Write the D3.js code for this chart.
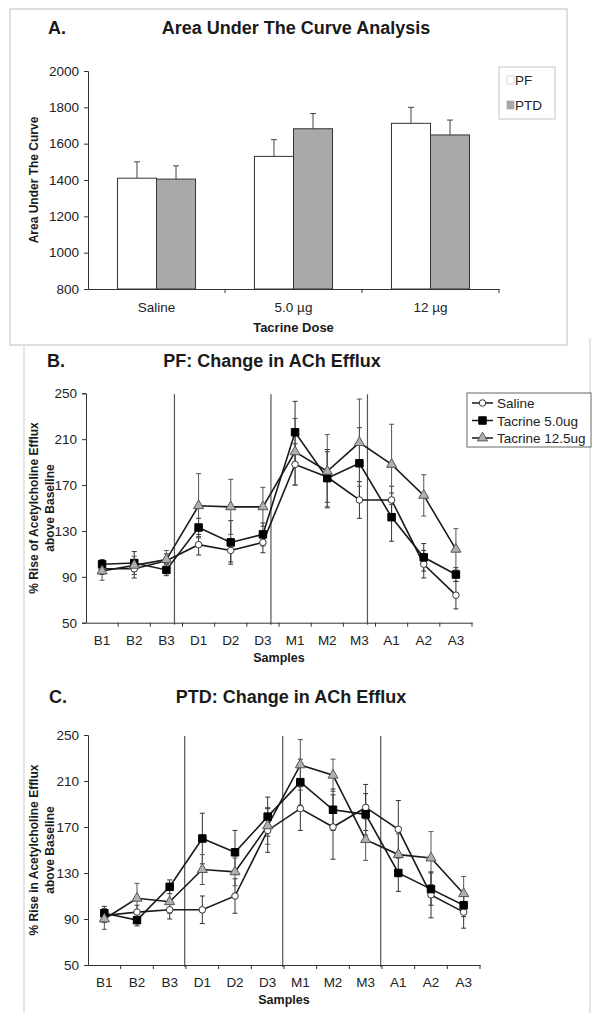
<!DOCTYPE html>
<html>
<head>
<meta charset="utf-8">
<script src="https://cdn.jsdelivr.net/npm/d3@7"></script>
<style>
  html, body { margin: 0; padding: 0; background: #fff; }
  svg { display: block; font-family: "Liberation Sans", Arial, sans-serif; }
</style>
</head>
<body>
<svg id="chart" width="601" height="1032"></svg>
<script>
// ---------- Panel A data ----------
const doseCategories = ["Saline", "5.0 µg", "12 µg"];
const aucGroups = ["PF", "PTD"];
const aucPF = [1410, 1530, 1712];
const aucPFErr = [90, 92, 88];
const aucPTD = [1405, 1682, 1648];
const aucPTDErr = [73, 84, 82];
const aucTicks = [800, 1000, 1200, 1400, 1600, 1800, 2000];

// ---------- Panels B & C data ----------
const samples = ["B1", "B2", "B3", "D1", "D2", "D3", "M1", "M2", "M3", "A1", "A2", "A3"];
const seriesNames = ["Saline", "Tacrine 5.0ug", "Tacrine 12.5ug"];
const effluxTicks = [50, 90, 130, 170, 210, 250];
const phaseEnds = ["B3", "D3", "M3"];

const pfSaline = [97, 97, 104, 118, 113, 120, 188, 177, 157, 157, 101, 74];
const pfSalineErr = [5, 8, 6, 9, 10, 9, 18, 22, 16, 12, 12, 12];
const pfTac5 = [101, 102, 96, 133, 120, 127, 216, 176, 189, 142, 107, 92];
const pfTac5Err = [4, 10, 5, 8, 19, 10, 27, 25, 31, 21, 12, 6];
const pfTac12 = [95, 100, 105, 152, 151, 151, 199, 182, 207, 188, 161, 114];
const pfTac12Err = [8, 8, 8, 28, 24, 17, 29, 32, 38, 35, 18, 18];

const ptdSaline = [93, 96, 98, 98, 110, 167, 186, 170, 187, 168, 111, 96];
const ptdSalineErr = [6, 6, 8, 12, 15, 19, 19, 28, 20, 25, 20, 14];
const ptdTac5 = [95, 89, 118, 160, 148, 179, 209, 185, 181, 130, 116, 102];
const ptdTac5Err = [6, 5, 6, 22, 19, 17, 20, 18, 18, 16, 14, 10];
const ptdTac12 = [90, 108, 105, 133, 131, 171, 224, 215, 159, 146, 143, 112];
const ptdTac12Err = [9, 13, 10, 13, 12, 16, 22, 14, 18, 18, 23, 15];

// ---------- drawing ----------
const svg = d3.select("#chart");
const INK = "#1a1a1a";
const AXIS = "#333";

// Frames
svg.append("rect").attr("x", 10).attr("y", 9).attr("width", 557).attr("height", 336)
  .attr("fill", "none").attr("stroke", "#d4d4d4").attr("stroke-width", 1.5);
svg.append("line").attr("x1", 24).attr("x2", 24).attr("y1", 345).attr("y2", 1013)
  .attr("stroke", "#dcdcdc").attr("stroke-width", 1.5);
svg.append("line").attr("x1", 590).attr("x2", 590).attr("y1", 338).attr("y2", 1013)
  .attr("stroke", "#dcdcdc").attr("stroke-width", 1.5);

function titleText(letter, letterX, title, titleX, baseline) {
  svg.append("text").attr("x", letterX).attr("y", baseline)
    .attr("font-size", 18).attr("font-weight", "bold").attr("fill", INK).text(letter);
  svg.append("text").attr("x", titleX).attr("y", baseline).attr("text-anchor", "middle")
    .attr("font-size", 18).attr("font-weight", "bold").attr("fill", INK).text(title);
}

function styleAxis(g) {
  g.selectAll(".domain").attr("stroke", AXIS).attr("stroke-width", 1);
  g.selectAll(".tick line").attr("stroke", AXIS);
  g.selectAll(".tick text").attr("fill", "#222").attr("font-size", 13.5)
    .attr("font-family", "Liberation Sans, Arial, sans-serif");
}

// ===== Panel A =====
(function panelA() {
  const left = 88, right = 499, top = 71, bottom = 289;
  const x0 = d3.scaleBand().domain(doseCategories).range([left, right]).paddingInner(0).paddingOuter(0);
  const x1 = d3.scaleBand().domain(aucGroups).range([0, x0.bandwidth()]).paddingInner(0).paddingOuter(0.755);
  const y = d3.scaleLinear().domain([800, 2000]).range([bottom, top]);

  titleText("A.", 48, "Area Under The Curve Analysis", 296, 34);

  const data = doseCategories.map((c, i) => ({
    cat: c,
    bars: [
      { g: "PF", v: aucPF[i], e: aucPFErr[i] },
      { g: "PTD", v: aucPTD[i], e: aucPTDErr[i] }
    ]
  }));
  const fills = { PF: "#ffffff", PTD: "#a9a9a9" };

  const grp = svg.append("g").selectAll("g").data(data).join("g")
    .attr("transform", d => `translate(${x0(d.cat)},0)`);
  // error bars (upper only)
  grp.selectAll("g.err").data(d => d.bars).join("g").attr("class", "err").each(function (b) {
    const g = d3.select(this);
    const cx = x1(b.g) + x1.bandwidth() / 2;
    g.append("line").attr("x1", cx).attr("x2", cx).attr("y1", y(b.v)).attr("y2", y(b.v + b.e))
      .attr("stroke", "#444").attr("stroke-width", 1);
    g.append("line").attr("x1", cx - 3).attr("x2", cx + 3).attr("y1", y(b.v + b.e)).attr("y2", y(b.v + b.e))
      .attr("stroke", "#444").attr("stroke-width", 1);
  });
  grp.selectAll("rect").data(d => d.bars).join("rect")
    .attr("x", b => x1(b.g)).attr("width", x1.bandwidth())
    .attr("y", b => y(b.v)).attr("height", b => y(800) - y(b.v))
    .attr("fill", b => fills[b.g]).attr("stroke", "#333").attr("stroke-width", 1);

  const ya = svg.append("g").attr("transform", `translate(${left},0)`)
    .call(d3.axisLeft(y).tickValues(aucTicks).tickSize(4).tickPadding(5).tickFormat(d3.format("d")));
  styleAxis(ya);

  const xa = svg.append("g").attr("transform", `translate(0,${bottom})`)
    .call(d3.axisBottom(x0).tickSize(0).tickPadding(13));
  styleAxis(xa);
  // boundary tick marks
  const bounds = doseCategories.map(c => x0(c)).concat([right]);
  svg.append("g").selectAll("line").data(bounds.slice(1)).join("line")
    .attr("x1", d => d).attr("x2", d => d).attr("y1", bottom).attr("y2", bottom + 4)
    .attr("stroke", AXIS);

  svg.append("text").attr("x", (left + right) / 2).attr("y", 332).attr("text-anchor", "middle")
    .attr("font-size", 13).attr("font-weight", "bold").attr("fill", INK).text("Tacrine Dose");
  svg.append("text").attr("transform", `translate(38,${(top + bottom) / 2}) rotate(-90)`)
    .attr("text-anchor", "middle").attr("font-size", 12).attr("font-weight", "bold").attr("fill", INK)
    .text("Area Under The Curve");

  // legend
  const lg = svg.append("g");
  lg.append("rect").attr("x", 499).attr("y", 67).attr("width", 56).attr("height", 52)
    .attr("fill", "#fff").attr("stroke", "#cfcfcf").attr("stroke-width", 1.2);
  aucGroups.forEach((gname, i) => {
    const cy = 80 + i * 25;
    lg.append("rect").attr("x", 507).attr("y", cy - 4).attr("width", 7).attr("height", 8)
      .attr("fill", fills[gname]).attr("stroke", gname === "PF" ? "#ccc" : "#a9a9a9").attr("stroke-width", 0.8);
    lg.append("text").attr("x", 515).attr("y", cy + 5).attr("font-size", 13.5).attr("fill", "#222").text(gname);
  });
})();

// ===== Line panels =====
function symbolFor(i) {
  return [d3.symbolCircle, d3.symbolSquare, d3.symbolTriangle][i];
}
const symSize = [34, 56, 44];
const symFill = ["#ffffff", "#000000", "#b0b0b0"];
const symStroke = ["#333", "#000", "#555"];

function linePanel(opts) {
  const { left, right, top, bottom, letter, letterX, title, titleX, titleBase, yLabel1, yLabel2,
          series, errs, phaseOffset, tickBase, samplesBase, legend } = opts;
  const x = d3.scaleBand().domain(samples).range([left, right]).padding(0);
  const y = d3.scaleLinear().domain([50, 250]).range([bottom, top]);
  const cx = s => x(s) + x.bandwidth() / 2;

  titleText(letter, letterX, title, titleX, titleBase);

  // phase separators
  svg.append("g").selectAll("line").data(phaseEnds).join("line")
    .attr("x1", d => cx(d) + x.bandwidth() * phaseOffset).attr("x2", d => cx(d) + x.bandwidth() * phaseOffset)
    .attr("y1", top + 1).attr("y2", bottom + 2).attr("stroke", "#555").attr("stroke-width", 1.2);

  // axes
  const ya = svg.append("g").attr("transform", `translate(${left},0)`)
    .call(d3.axisLeft(y).tickValues(effluxTicks).tickSize(4).tickPadding(5));
  styleAxis(ya);
  const xa = svg.append("g").attr("transform", `translate(0,${bottom})`)
    .call(d3.axisBottom(x).tickSize(0).tickPadding(tickBase - bottom - 10));
  styleAxis(xa);
  svg.append("g").selectAll("line").data(samples.slice(1).map(s => x(s)).concat([right])).join("line")
    .attr("x1", d => d).attr("x2", d => d).attr("y1", bottom).attr("y2", bottom + 4).attr("stroke", AXIS);

  svg.append("text").attr("x", (left + right) / 2).attr("y", samplesBase).attr("text-anchor", "middle")
    .attr("font-size", 12.5).attr("font-weight", "bold").attr("fill", INK).text("Samples");
  const yc = (top + bottom) / 2;
  svg.append("text").attr("transform", `translate(38,${yc}) rotate(-90)`).attr("text-anchor", "middle")
    .attr("font-size", 12).attr("font-weight", "bold").attr("fill", INK).text(yLabel1);
  svg.append("text").attr("transform", `translate(54,${yc}) rotate(-90)`).attr("text-anchor", "middle")
    .attr("font-size", 12).attr("font-weight", "bold").attr("fill", INK).text(yLabel2);

  // error bars
  series.forEach((vals, si) => {
    const g = svg.append("g");
    vals.forEach((v, k) => {
      const e = errs[si][k], px = cx(samples[k]);
      const col = si === 2 ? "#555" : "#333";
      g.append("line").attr("x1", px).attr("x2", px).attr("y1", y(v - e)).attr("y2", y(v + e))
        .attr("stroke", col).attr("stroke-width", 1);
      [v - e, v + e].forEach(t => g.append("line").attr("x1", px - 2.5).attr("x2", px + 2.5)
        .attr("y1", y(t)).attr("y2", y(t)).attr("stroke", col).attr("stroke-width", 1));
    });
  });
  // lines
  const line = d3.line().x((d, k) => cx(samples[k])).y(d => y(d));
  series.forEach(vals => {
    svg.append("path").datum(vals).attr("d", line).attr("fill", "none")
      .attr("stroke", INK).attr("stroke-width", 1.6);
  });
  // markers
  series.forEach((vals, si) => {
    svg.append("g").selectAll("path").data(vals).join("path")
      .attr("transform", (d, k) => `translate(${cx(samples[k])},${y(d)})`)
      .attr("d", d3.symbol().type(symbolFor(si)).size(symSize[si]))
      .attr("fill", symFill[si]).attr("stroke", symStroke[si]).attr("stroke-width", 1);
  });

  if (legend) {
    const lg = svg.append("g");
    lg.append("rect").attr("x", 467).attr("y", 393).attr("width", 124).attr("height", 54)
      .attr("fill", "#fff").attr("stroke", "#666").attr("stroke-width", 1);
    seriesNames.forEach((n, i) => {
      const cy = 403 + i * 17.5;
      lg.append("line").attr("x1", 472).attr("x2", 493).attr("y1", cy).attr("y2", cy)
        .attr("stroke", INK).attr("stroke-width", 1.5);
      lg.append("path").attr("transform", `translate(482.5,${cy})`)
        .attr("d", d3.symbol().type(symbolFor(i)).size(symSize[i]))
        .attr("fill", symFill[i]).attr("stroke", symStroke[i]).attr("stroke-width", 1);
      lg.append("text").attr("x", 497).attr("y", cy + 5).attr("font-size", 13.5).attr("fill", "#222").text(n);
    });
  }
}

linePanel({
  left: 86, right: 472, top: 393.3, bottom: 622.7,
  letter: "B.", letterX: 47, title: "PF: Change in ACh Efflux", titleX: 272, titleBase: 367,
  yLabel1: "% Rise of Acetylcholine Efflux", yLabel2: "above Baseline",
  series: [pfSaline, pfTac5, pfTac12], errs: [pfSalineErr, pfTac5Err, pfTac12Err],
  phaseOffset: 0.25, tickBase: 645, samplesBase: 662, legend: true
});

linePanel({
  left: 88, right: 480, top: 735, bottom: 965,
  letter: "C.", letterX: 49, title: "PTD: Change in ACh Efflux", titleX: 291, titleBase: 703,
  yLabel1: "% Rise in Acetylcholine Efflux", yLabel2: "above Baseline",
  series: [ptdSaline, ptdTac5, ptdTac12], errs: [ptdSalineErr, ptdTac5Err, ptdTac12Err],
  phaseOffset: 0.46, tickBase: 987, samplesBase: 1004, legend: false
});
</script>
</body>
</html>
